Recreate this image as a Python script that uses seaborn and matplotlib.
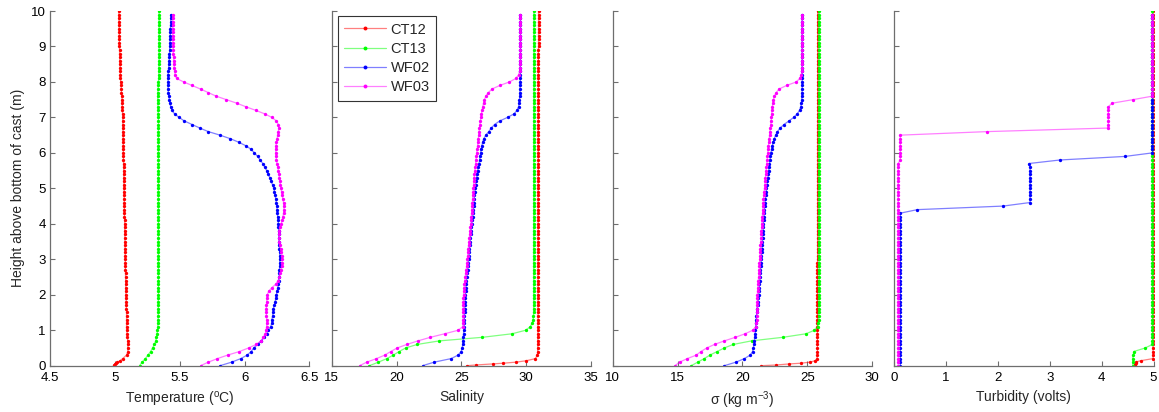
import matplotlib
matplotlib.use("Agg")
import matplotlib.pyplot as plt
import seaborn as sns
import pandas as pd
from matplotlib.lines import Line2D
from matplotlib.colors import to_rgba

# ---------------- data ----------------
CASTS = ["CT12", "CT13", "WF02", "WF03"]
COLORS = ["#ff0000", "#00ff00", "#0000ff", "#ff00ff"]

DEPTH_CT12 = [0.0, 0.02, 0.05, 0.07, 0.1, 0.14, 0.2,
              0.3, 0.4, 0.5, 0.6, 0.7, 0.8, 0.9,
              1.0, 1.1, 1.2, 1.3, 1.4, 1.5, 1.6, 1.7, 1.8, 1.9,
              2.0, 2.1, 2.2, 2.3, 2.4, 2.5, 2.6, 2.7, 2.8, 2.9,
              3.0, 3.1, 3.2, 3.3, 3.4, 3.5, 3.6, 3.7, 3.8, 3.9,
              4.0, 4.1, 4.2, 4.3, 4.4, 4.5, 4.6, 4.7, 4.8, 4.9,
              5.0, 5.1, 5.2, 5.3, 5.4, 5.5, 5.6, 5.7, 5.8, 5.9,
              6.0, 6.1, 6.2, 6.3, 6.4, 6.5, 6.6, 6.7, 6.8, 6.9,
              7.0, 7.1, 7.2, 7.3, 7.4, 7.5, 7.6, 7.7, 7.8, 7.9,
              8.0, 8.1, 8.2, 8.3, 8.4, 8.5, 8.6, 8.7, 8.8, 8.9,
              9.0, 9.1, 9.2, 9.3, 9.4, 9.5, 9.6, 9.7, 9.8, 9.9, 10.0]
TEMP_CT12 = [4.99, 4.995, 5.00, 5.005, 5.02, 5.04, 5.06,
             5.09, 5.10, 5.10, 5.10, 5.10, 5.095, 5.095,
             5.09, 5.09, 5.09, 5.09, 5.09, 5.09, 5.088, 5.088, 5.087, 5.086,
             5.085, 5.085, 5.084, 5.083, 5.083, 5.082, 5.082, 5.081, 5.081, 5.080,
             5.080, 5.079, 5.079, 5.078, 5.078, 5.077, 5.077, 5.076, 5.076, 5.075,
             5.075, 5.075, 5.074, 5.074, 5.073, 5.073, 5.072, 5.072, 5.071, 5.071,
             5.070, 5.070, 5.069, 5.069, 5.068, 5.068, 5.067, 5.067, 5.066, 5.066,
             5.065, 5.065, 5.064, 5.064, 5.063, 5.063, 5.062, 5.062, 5.061, 5.061,
             5.060, 5.059, 5.058, 5.057, 5.056, 5.055, 5.053, 5.051, 5.049, 5.047,
             5.045, 5.043, 5.042, 5.041, 5.040, 5.039, 5.038, 5.037, 5.036, 5.036,
             5.035, 5.035, 5.034, 5.034, 5.033, 5.033, 5.032, 5.032, 5.031, 5.031, 5.030]
SAL_CT12 = [25.4, 26.1, 27.4, 28.2, 29.2, 30.0, 30.7,
            30.85, 30.87, 30.88, 30.88, 30.88, 30.89, 30.89,
            30.89, 30.89, 30.89, 30.90, 30.90, 30.90, 30.90, 30.90, 30.90, 30.90,
            30.90, 30.90, 30.90, 30.90, 30.90, 30.90, 30.90, 30.90, 30.90, 30.90,
            30.91, 30.91, 30.91, 30.91, 30.91, 30.91, 30.91, 30.91, 30.91, 30.91,
            30.91, 30.91, 30.91, 30.91, 30.91, 30.91, 30.91, 30.91, 30.91, 30.91,
            30.92, 30.92, 30.92, 30.92, 30.92, 30.92, 30.92, 30.92, 30.92, 30.92,
            30.92, 30.92, 30.92, 30.92, 30.92, 30.92, 30.92, 30.92, 30.92, 30.92,
            30.93, 30.93, 30.93, 30.93, 30.93, 30.93, 30.93, 30.93, 30.93, 30.93,
            30.93, 30.93, 30.93, 30.93, 30.93, 30.93, 30.93, 30.93, 30.93, 30.93,
            30.94, 30.94, 30.94, 30.94, 30.94, 30.94, 30.94, 30.94, 30.94, 30.94, 30.94]
SIG_CT12 = [21.45, 22.6, 23.6, 24.5, 25.2, 25.6, 25.74,
            25.77, 25.78, 25.78, 25.78, 25.78, 25.78, 25.78,
            25.78, 25.78, 25.78, 25.78, 25.78, 25.78, 25.78, 25.78, 25.78, 25.78,
            25.78, 25.78, 25.78, 25.78, 25.78, 25.78, 25.78, 25.78, 25.78, 25.78,
            25.79, 25.79, 25.79, 25.79, 25.79, 25.79, 25.79, 25.79, 25.79, 25.79,
            25.79, 25.79, 25.79, 25.79, 25.79, 25.79, 25.79, 25.79, 25.79, 25.79,
            25.79, 25.79, 25.79, 25.79, 25.79, 25.79, 25.79, 25.79, 25.79, 25.79,
            25.79, 25.79, 25.79, 25.79, 25.79, 25.79, 25.79, 25.79, 25.79, 25.79,
            25.80, 25.80, 25.80, 25.80, 25.80, 25.80, 25.80, 25.80, 25.80, 25.80,
            25.80, 25.80, 25.80, 25.80, 25.80, 25.80, 25.80, 25.80, 25.80, 25.80,
            25.80, 25.80, 25.80, 25.80, 25.80, 25.80, 25.80, 25.80, 25.80, 25.80, 25.80]
TURB_CT12 = [4.64, 4.65, 4.65, 4.66, 4.66, 4.75, 4.99,
             4.99, 4.99, 4.99, 4.99, 4.99, 4.99, 4.99,
             4.99, 4.99, 4.99, 4.99, 4.99, 4.99, 4.99, 4.99, 4.99, 4.99,
             4.99, 4.99, 4.99, 4.99, 4.99, 4.99, 4.99, 4.99, 4.99, 4.99,
             4.99, 4.99, 4.99, 4.99, 4.99, 4.99, 4.99, 4.99, 4.99, 4.99,
             4.99, 4.99, 4.99, 4.99, 4.99, 4.99, 4.99, 4.99, 4.99, 4.99,
             4.99, 4.99, 4.99, 4.99, 4.99, 4.99, 4.99, 4.99, 4.99, 4.99,
             4.99, 4.99, 4.99, 4.99, 4.99, 4.99, 4.99, 4.99, 4.99, 4.99,
             4.99, 4.99, 4.99, 4.99, 4.99, 4.99, 4.99, 4.99, 4.99, 4.99,
             4.99, 4.99, 4.99, 4.99, 4.99, 4.99, 4.99, 4.99, 4.99, 4.99,
             4.99, 4.99, 4.99, 4.99, 4.99, 4.99, 4.99, 4.99, 4.99, 4.99, 4.99]

DEPTH_CT13 = [0.0, 0.1, 0.2, 0.3, 0.4, 0.5, 0.6, 0.7, 0.8, 0.9,
              1.0, 1.1, 1.2, 1.3, 1.4, 1.5, 1.6, 1.7, 1.8, 1.9,
              2.0, 2.1, 2.2, 2.3, 2.4, 2.5, 2.6, 2.7, 2.8, 2.9,
              3.0, 3.1, 3.2, 3.3, 3.4, 3.5, 3.6, 3.7, 3.8, 3.9,
              4.0, 4.1, 4.2, 4.3, 4.4, 4.5, 4.6, 4.7, 4.8, 4.9,
              5.0, 5.1, 5.2, 5.3, 5.4, 5.5, 5.6, 5.7, 5.8, 5.9,
              6.0, 6.1, 6.2, 6.3, 6.4, 6.5, 6.6, 6.7, 6.8, 6.9,
              7.0, 7.1, 7.2, 7.3, 7.4, 7.5, 7.6, 7.7, 7.8, 7.9,
              8.0, 8.1, 8.2, 8.3, 8.4, 8.5, 8.6, 8.7, 8.8, 8.9,
              9.0, 9.1, 9.2, 9.3, 9.4, 9.5, 9.6, 9.7, 9.8, 9.9, 10.0]
TEMP_CT13 = [5.19, 5.21, 5.235, 5.255, 5.275, 5.29, 5.305, 5.315, 5.32, 5.325,
             5.328, 5.33, 5.332, 5.333, 5.334, 5.335, 5.335, 5.335, 5.335, 5.335,
             5.336, 5.336, 5.336, 5.336, 5.336, 5.336, 5.336, 5.336, 5.336, 5.336,
             5.336, 5.336, 5.336, 5.336, 5.336, 5.336, 5.336, 5.336, 5.336, 5.336,
             5.336, 5.336, 5.336, 5.336, 5.336, 5.336, 5.336, 5.336, 5.336, 5.336,
             5.336, 5.336, 5.336, 5.336, 5.336, 5.336, 5.336, 5.336, 5.336, 5.336,
             5.336, 5.336, 5.336, 5.336, 5.336, 5.336, 5.336, 5.336, 5.336, 5.336,
             5.335, 5.334, 5.333, 5.332, 5.331, 5.330, 5.330, 5.331, 5.333, 5.335,
             5.336, 5.337, 5.338, 5.338, 5.339, 5.339, 5.340, 5.340, 5.340, 5.340,
             5.340, 5.340, 5.340, 5.340, 5.340, 5.340, 5.340, 5.340, 5.340, 5.340, 5.340]
SAL_CT13 = [17.9, 18.6, 19.25, 19.75, 20.2, 20.7, 21.6, 23.3, 26.6, 28.9,
            29.95, 30.3, 30.45, 30.52, 30.55, 30.56, 30.56, 30.56, 30.56, 30.56,
            30.56, 30.56, 30.56, 30.56, 30.56, 30.56, 30.56, 30.56, 30.56, 30.56,
            30.56, 30.56, 30.56, 30.56, 30.56, 30.56, 30.56, 30.56, 30.56, 30.56,
            30.57, 30.57, 30.57, 30.57, 30.57, 30.57, 30.57, 30.57, 30.57, 30.57,
            30.57, 30.57, 30.57, 30.57, 30.57, 30.57, 30.57, 30.57, 30.57, 30.57,
            30.57, 30.57, 30.57, 30.57, 30.57, 30.57, 30.57, 30.57, 30.57, 30.57,
            30.58, 30.58, 30.58, 30.58, 30.58, 30.58, 30.58, 30.58, 30.58, 30.58,
            30.58, 30.58, 30.58, 30.58, 30.58, 30.58, 30.58, 30.58, 30.58, 30.58,
            30.58, 30.58, 30.58, 30.58, 30.58, 30.58, 30.58, 30.58, 30.58, 30.58, 30.58]
SIG_CT13 = [16.05, 16.55, 17.05, 17.5, 18.05, 18.6, 19.3, 20.7, 23.1, 24.9,
            25.55, 25.8, 25.85, 25.87, 25.88, 25.88, 25.89, 25.89, 25.89, 25.90,
            25.90, 25.90, 25.90, 25.90, 25.90, 25.90, 25.90, 25.90, 25.90, 25.90,
            25.90, 25.90, 25.90, 25.90, 25.90, 25.90, 25.90, 25.90, 25.90, 25.90,
            25.90, 25.90, 25.90, 25.90, 25.90, 25.90, 25.90, 25.90, 25.90, 25.90,
            25.90, 25.90, 25.90, 25.90, 25.90, 25.90, 25.90, 25.90, 25.90, 25.90,
            25.90, 25.90, 25.90, 25.90, 25.90, 25.90, 25.90, 25.90, 25.90, 25.90,
            25.90, 25.90, 25.90, 25.90, 25.90, 25.90, 25.90, 25.90, 25.90, 25.90,
            25.90, 25.90, 25.90, 25.90, 25.90, 25.90, 25.90, 25.90, 25.90, 25.90,
            25.90, 25.90, 25.90, 25.90, 25.90, 25.90, 25.90, 25.90, 25.90, 25.90, 25.90]
TURB_CT13 = [4.60, 4.60, 4.60, 4.61, 4.62, 4.84, 4.98, 4.98, 4.98, 4.98,
             4.98, 4.98, 4.98, 4.98, 4.98, 4.98, 4.98, 4.98, 4.98, 4.98,
             4.98, 4.98, 4.98, 4.98, 4.98, 4.98, 4.98, 4.98, 4.98, 4.98,
             4.98, 4.98, 4.98, 4.98, 4.98, 4.98, 4.98, 4.98, 4.98, 4.98,
             4.98, 4.98, 4.98, 4.98, 4.98, 4.98, 4.98, 4.98, 4.98, 4.98,
             4.98, 4.98, 4.98, 4.98, 4.98, 4.98, 4.98, 4.98, 4.98, 4.98,
             4.98, 4.98, 4.98, 4.98, 4.98, 4.98, 4.98, 4.98, 4.98, 4.98,
             4.98, 4.98, 4.98, 4.98, 4.98, 4.98, 4.98, 4.98, 4.98, 4.98,
             4.98, 4.98, 4.98, 4.98, 4.98, 4.98, 4.98, 4.98, 4.98, 4.98,
             4.98, 4.98, 4.98, 4.98, 4.98, 4.98, 4.98, 4.98, 4.98, 4.98, 4.98]

DEPTH_WF = [0.0, 0.1, 0.2, 0.3, 0.4, 0.5, 0.6, 0.7, 0.8, 0.9,
            1.0, 1.1, 1.2, 1.3, 1.4, 1.5, 1.6, 1.7, 1.8, 1.9,
            2.0, 2.1, 2.2, 2.3, 2.4, 2.5, 2.6, 2.7, 2.8, 2.9,
            3.0, 3.1, 3.2, 3.3, 3.4, 3.5, 3.6, 3.7, 3.8, 3.9,
            4.0, 4.1, 4.2, 4.3, 4.4, 4.5, 4.6, 4.7, 4.8, 4.9,
            5.0, 5.1, 5.2, 5.3, 5.4, 5.5, 5.6, 5.7, 5.8, 5.9,
            6.0, 6.1, 6.2, 6.3, 6.4, 6.5, 6.6, 6.7, 6.8, 6.9,
            7.0, 7.1, 7.2, 7.3, 7.4, 7.5, 7.6, 7.7, 7.8, 7.9,
            8.0, 8.1, 8.2, 8.3, 8.4, 8.5, 8.6, 8.7, 8.8, 8.9,
            9.0, 9.1, 9.2, 9.3, 9.4, 9.5, 9.6, 9.7, 9.8, 9.9]

TEMP_WF02 = [5.81, 5.90, 5.97, 6.02, 6.05, 6.07, 6.10, 6.13, 6.15, 6.17,
             6.18, 6.20, 6.21, 6.21, 6.215, 6.22, 6.22, 6.23, 6.235, 6.24,
             6.245, 6.25, 6.255, 6.26, 6.262, 6.265, 6.267, 6.268, 6.27, 6.27,
             6.27, 6.27, 6.27, 6.268, 6.266, 6.265, 6.264, 6.263, 6.262, 6.261,
             6.26, 6.258, 6.255, 6.252, 6.25, 6.247, 6.244, 6.24, 6.235, 6.23,
             6.225, 6.215, 6.205, 6.195, 6.18, 6.17, 6.155, 6.14, 6.12, 6.10,
             6.075, 6.05, 6.01, 5.955, 5.89, 5.81, 5.72, 5.655, 5.595, 5.535,
             5.495, 5.46, 5.44, 5.43, 5.425, 5.42, 5.415, 5.412, 5.41, 5.41,
             5.41, 5.41, 5.41, 5.412, 5.414, 5.416, 5.418, 5.42, 5.421, 5.422,
             5.423, 5.424, 5.425, 5.426, 5.427, 5.428, 5.429, 5.43, 5.43, 5.43]
SAL_WF02 = [22.0, 22.9, 24.2, 24.75, 24.98, 25.05, 25.1, 25.12, 25.14, 25.16,
            25.18, 25.2, 25.21, 25.22, 25.23, 25.24, 25.25, 25.26, 25.27, 25.28,
            25.3, 25.32, 25.34, 25.36, 25.38, 25.41, 25.44, 25.47, 25.5, 25.52,
            25.55, 25.57, 25.6, 25.62, 25.64, 25.66, 25.68, 25.7, 25.72, 25.74,
            25.78, 25.82, 25.86, 25.89, 25.92, 25.94, 25.96, 25.98, 26.0, 26.03,
            26.06, 26.09, 26.13, 26.17, 26.21, 26.25, 26.3, 26.35, 26.4, 26.44,
            26.48, 26.52, 26.57, 26.63, 26.72, 26.88, 27.1, 27.3, 27.55, 27.95,
            28.55, 29.05, 29.28, 29.4, 29.45, 29.47, 29.49, 29.5, 29.51, 29.52,
            29.53, 29.53, 29.54, 29.54, 29.54, 29.54, 29.55, 29.55, 29.55, 29.55,
            29.55, 29.55, 29.55, 29.55, 29.55, 29.55, 29.55, 29.55, 29.55, 29.55]
SIG_WF02 = [18.6, 19.5, 20.15, 20.6, 20.78, 20.84, 20.88, 20.91, 20.94, 20.97,
            21.0, 21.02, 21.04, 21.06, 21.08, 21.1, 21.13, 21.16, 21.19, 21.22,
            21.25, 21.27, 21.29, 21.31, 21.33, 21.35, 21.37, 21.39, 21.41, 21.43,
            21.44, 21.46, 21.48, 21.5, 21.51, 21.53, 21.55, 21.56, 21.58, 21.6,
            21.61, 21.63, 21.65, 21.67, 21.69, 21.71, 21.73, 21.76, 21.79, 21.82,
            21.85, 21.89, 21.93, 21.96, 21.99, 22.02, 22.05, 22.08, 22.12, 22.16,
            22.2, 22.24, 22.3, 22.37, 22.45, 22.56, 22.7, 22.9, 23.2, 23.58,
            23.95, 24.22, 24.4, 24.5, 24.54, 24.56, 24.58, 24.59, 24.6, 24.6,
            24.6, 24.6, 24.6, 24.6, 24.6, 24.6, 24.6, 24.6, 24.6, 24.6,
            24.6, 24.6, 24.6, 24.6, 24.6, 24.6, 24.6, 24.6, 24.6, 24.6]
TURB_WF02 = [0.12, 0.12, 0.12, 0.12, 0.12, 0.12, 0.12, 0.12, 0.12, 0.12,
             0.12, 0.12, 0.12, 0.12, 0.12, 0.12, 0.12, 0.12, 0.12, 0.12,
             0.12, 0.12, 0.12, 0.12, 0.12, 0.12, 0.12, 0.12, 0.12, 0.12,
             0.12, 0.12, 0.12, 0.12, 0.12, 0.12, 0.12, 0.12, 0.12, 0.12,
             0.12, 0.12, 0.12, 0.12, 0.45, 2.1, 2.62, 2.62, 2.62, 2.62,
             2.62, 2.62, 2.62, 2.62, 2.62, 2.62, 2.62, 2.6, 3.2, 4.45,
             4.98, 4.98, 4.98, 4.98, 4.98, 4.98, 4.98, 4.98, 4.98, 4.98,
             4.98, 4.98, 4.98, 4.98, 4.98, 4.98, 4.98, 4.98, 4.98, 4.98,
             4.98, 4.98, 4.98, 4.98, 4.98, 4.98, 4.98, 4.98, 4.98, 4.98,
             4.98, 4.98, 4.98, 4.98, 4.98, 4.98, 4.98, 4.98, 4.98, 4.98]

TEMP_WF03 = [5.66, 5.72, 5.79, 5.87, 5.96, 6.03, 6.09, 6.125, 6.145, 6.16,
             6.165, 6.17, 6.17, 6.17, 6.168, 6.167, 6.167, 6.168, 6.17, 6.172,
             6.175, 6.185, 6.21, 6.24, 6.258, 6.268, 6.275, 6.28, 6.285, 6.288,
             6.29, 6.288, 6.283, 6.277, 6.27, 6.265, 6.262, 6.263, 6.268, 6.275,
             6.282, 6.289, 6.295, 6.30, 6.303, 6.303, 6.30, 6.295, 6.29, 6.285,
             6.28, 6.276, 6.272, 6.268, 6.264, 6.26, 6.255, 6.25, 6.245, 6.242,
             6.24, 6.24, 6.242, 6.245, 6.25, 6.255, 6.26, 6.263, 6.26, 6.245,
             6.21, 6.155, 6.085, 6.01, 5.94, 5.86, 5.78, 5.72, 5.66, 5.595,
             5.53, 5.475, 5.465, 5.46, 5.458, 5.456, 5.454, 5.452, 5.45, 5.449,
             5.448, 5.447, 5.446, 5.446, 5.445, 5.445, 5.445, 5.445, 5.445, 5.445]
SAL_WF03 = [17.15, 17.7, 18.45, 19.1, 19.55, 20.05, 20.8, 21.65, 22.6, 23.7,
            24.75, 25.1, 25.12, 25.12, 25.13, 25.13, 25.14, 25.14, 25.15, 25.15,
            25.16, 25.18, 25.2, 25.23, 25.26, 25.29, 25.32, 25.36, 25.4, 25.43,
            25.45, 25.47, 25.5, 25.52, 25.55, 25.58, 25.6, 25.63, 25.66, 25.69,
            25.72, 25.74, 25.76, 25.78, 25.8, 25.82, 25.84, 25.86, 25.88, 25.9,
            25.92, 25.94, 25.96, 25.98, 26.0, 26.03, 26.06, 26.09, 26.12, 26.15,
            26.18, 26.21, 26.24, 26.27, 26.3, 26.33, 26.36, 26.39, 26.42, 26.46,
            26.5, 26.54, 26.59, 26.64, 26.7, 26.77, 26.88, 27.08, 27.35, 27.95,
            28.7, 29.2, 29.4, 29.48, 29.51, 29.53, 29.54, 29.55, 29.55, 29.55,
            29.55, 29.55, 29.55, 29.55, 29.55, 29.55, 29.55, 29.55, 29.55, 29.55]
SIG_WF03 = [14.8, 15.15, 15.75, 16.45, 16.8, 17.25, 17.85, 18.6, 19.45, 20.2,
            20.8, 21.02, 21.08, 21.09, 21.1, 21.11, 21.12, 21.13, 21.14, 21.15,
            21.15, 21.16, 21.18, 21.2, 21.22, 21.24, 21.26, 21.28, 21.3, 21.31,
            21.33, 21.35, 21.36, 21.38, 21.39, 21.41, 21.43, 21.44, 21.46, 21.48,
            21.49, 21.51, 21.53, 21.55, 21.57, 21.58, 21.6, 21.62, 21.65, 21.67,
            21.7, 21.72, 21.75, 21.77, 21.8, 21.82, 21.85, 21.87, 21.9, 21.92,
            21.95, 21.97, 22.0, 22.03, 22.06, 22.09, 22.12, 22.15, 22.18, 22.21,
            22.23, 22.25, 22.28, 22.3, 22.34, 22.39, 22.47, 22.6, 22.82, 23.4,
            24.15, 24.42, 24.53, 24.58, 24.6, 24.6, 24.6, 24.6, 24.6, 24.6,
            24.6, 24.6, 24.6, 24.6, 24.6, 24.6, 24.6, 24.6, 24.6, 24.6]
TURB_WF03 = [0.08, 0.08, 0.08, 0.08, 0.08, 0.08, 0.08, 0.08, 0.08, 0.08,
             0.08, 0.08, 0.08, 0.08, 0.08, 0.08, 0.08, 0.08, 0.08, 0.08,
             0.08, 0.08, 0.08, 0.08, 0.08, 0.08, 0.08, 0.08, 0.08, 0.08,
             0.08, 0.08, 0.08, 0.08, 0.08, 0.08, 0.08, 0.08, 0.08, 0.08,
             0.08, 0.08, 0.08, 0.08, 0.08, 0.08, 0.08, 0.08, 0.08, 0.08,
             0.08, 0.08, 0.08, 0.08, 0.08, 0.08, 0.08, 0.08, 0.12, 0.12,
             0.12, 0.12, 0.12, 0.12, 0.12, 0.12, 1.8, 4.13, 4.13, 4.13,
             4.13, 4.13, 4.13, 4.13, 4.2, 4.6, 4.98, 4.98, 4.98, 4.98,
             4.98, 4.98, 4.98, 4.98, 4.98, 4.98, 4.98, 4.98, 4.98, 4.98,
             4.98, 4.98, 4.98, 4.98, 4.98, 4.98, 4.98, 4.98, 4.98, 4.98]

PANELS = [
    ("temp", r"Temperature ($^{\rm o}$C)", (4.5, 6.5), [4.5, 5, 5.5, 6, 6.5], ["4.5", "5", "5.5", "6", "6.5"]),
    ("sal", "Salinity", (15, 35), [15, 20, 25, 30, 35], ["15", "20", "25", "30", "35"]),
    ("sig", r"σ (kg m$^{-3}$)", (10, 30), [10, 15, 20, 25, 30], ["10", "15", "20", "25", "30"]),
    ("turb", "Turbidity (volts)", (0, 5), [0, 1, 2, 3, 4, 5], ["0", "1", "2", "3", "4", "5"]),
]
Y_TICKS = [0, 1, 2, 3, 4, 5, 6, 7, 8, 9, 10]
Y_LABEL = "Height above bottom of cast (m)"

# ---------------- table ----------------
frames = [
    pd.DataFrame({"cast": "CT12", "depth": DEPTH_CT12, "temp": TEMP_CT12, "sal": SAL_CT12, "sig": SIG_CT12, "turb": TURB_CT12}),
    pd.DataFrame({"cast": "CT13", "depth": DEPTH_CT13, "temp": TEMP_CT13, "sal": SAL_CT13, "sig": SIG_CT13, "turb": TURB_CT13}),
    pd.DataFrame({"cast": "WF02", "depth": DEPTH_WF, "temp": TEMP_WF02, "sal": SAL_WF02, "sig": SIG_WF02, "turb": TURB_WF02}),
    pd.DataFrame({"cast": "WF03", "depth": DEPTH_WF, "temp": TEMP_WF03, "sal": SAL_WF03, "sig": SIG_WF03, "turb": TURB_WF03}),
]
df = pd.concat(frames, ignore_index=True)

# ---------------- style ----------------
sns.set_style("white")
plt.rcParams["font.family"] = ["Liberation Sans", "DejaVu Sans"]
plt.rcParams["mathtext.fontset"] = "custom"
plt.rcParams["mathtext.rm"] = "Liberation Sans"
plt.rcParams["mathtext.it"] = "Liberation Sans:italic"
SPINE = "#6e6e6e"
FS_TICK = 9.5
FS_LAB = 10

fig = plt.figure(figsize=(11.59, 4.12), dpi=100)
W, H = 1159.0, 412.0
lefts = [50, 331.7, 612.7, 894]
axes = []
for i, (var, xlabel, xlim, xt, xtl) in enumerate(PANELS):
    ax = fig.add_axes([lefts[i] / W, (H - 365.7) / H, 259.5 / W, 354.7 / H])
    sns.lineplot(data=df, x=var, y="depth", hue="cast", hue_order=CASTS,
                 palette=COLORS, estimator=None, sort=False, legend=False,
                 marker="o", markersize=2.4, markeredgewidth=0, linewidth=0.9,
                 ax=ax, clip_on=True)
    for ln in ax.lines:
        c = ln.get_color()
        ln.set_color(to_rgba(c, 0.5))
        ln.set_markerfacecolor(to_rgba(c, 1.0))
        ln.set_markeredgecolor(to_rgba(c, 1.0))
    ax.set_xlim(*xlim)
    ax.set_ylim(0, 10)
    ax.set_xticks(xt)
    ax.set_xticklabels(xtl)
    ax.set_yticks(Y_TICKS)
    if i == 0:
        ax.set_yticklabels([str(v) for v in Y_TICKS])
        ax.set_ylabel(Y_LABEL, fontsize=FS_LAB, labelpad=4)
    else:
        ax.set_yticklabels([])
        ax.set_ylabel("")
    ax.set_xlabel(xlabel, fontsize=FS_LAB, labelpad=4)
    for s in ["top", "right"]:
        ax.spines[s].set_visible(False)
    for s in ["left", "bottom"]:
        ax.spines[s].set_color(SPINE)
        ax.spines[s].set_linewidth(0.9)
    ax.tick_params(axis="both", direction="in", length=3.5, width=0.8,
                   color=SPINE, labelsize=FS_TICK, labelcolor="black",
                   left=True, bottom=True)
    ax.tick_params(axis="x", pad=4.5)
    ax.tick_params(axis="y", pad=3)
    ax.set_facecolor("white")
    axes.append(ax)

handles = [Line2D([], [], color=to_rgba(c, 0.5), linewidth=0.9, marker="o",
                  markersize=2.8, markerfacecolor=c, markeredgecolor=c,
                  markeredgewidth=0) for c in COLORS]
leg = axes[1].legend(handles, CASTS, loc="upper left", bbox_to_anchor=(0.024, 0.986),
                     borderaxespad=0, frameon=True, fancybox=False, framealpha=1,
                     edgecolor="#333333", fontsize=10.5, handlelength=2.85,
                     handletextpad=0.32, labelspacing=0.36, borderpad=0.45)
leg.get_frame().set_linewidth(0.8)

fig.savefig("out.png", dpi=100, facecolor="white")
